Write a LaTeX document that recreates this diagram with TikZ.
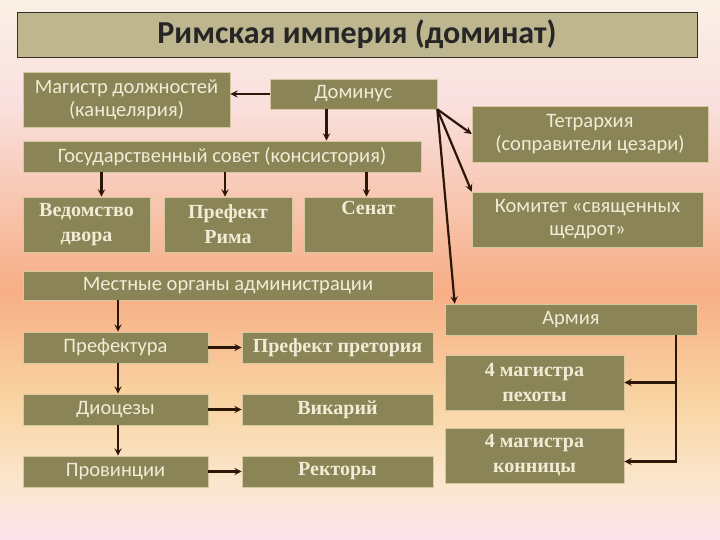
\documentclass[tikz,border=0pt]{standalone}
\usepackage{fontspec}
\setmainfont{Liberation Serif}
\newfontfamily\carlito{Carlito}
\usetikzlibrary{arrows}

\definecolor{boxfill}{HTML}{8A8456}
\definecolor{boxedge}{HTML}{D8C8A0}
\definecolor{boxtext}{HTML}{F3EBD6}
\definecolor{titlefill}{HTML}{BEB68F}
\definecolor{titleedge}{HTML}{3A3020}
\definecolor{arrowcol}{HTML}{2B1608}
\definecolor{bgA}{HTML}{FBF0E6}
\definecolor{bgB}{HTML}{F9E1E0}
\definecolor{bgC}{HTML}{F7AE86}
\definecolor{bgD}{HTML}{F9D4A2}
\definecolor{bgE}{HTML}{FBE6CC}
\definecolor{bgF}{HTML}{FCE2EC}

\begin{document}
\begin{tikzpicture}[x=1pt, y=-1pt]

% definitions
\tikzstyle{title} = [rectangle, minimum width=680pt, minimum height=45pt, draw=titleedge, fill=titlefill, text=black!85, font=\carlito\bfseries\fontsize{32}{34}\selectfont]

\tikzstyle{sansbox} = [rectangle, inner sep=0pt, align=center, draw=boxedge, line width=0.6pt, fill=boxfill, text=boxtext, font=\carlito\fontsize{20.5}{23}\selectfont]

\tikzstyle{serifbox} = [rectangle, inner sep=0pt, align=center, draw=boxedge, line width=0.6pt, fill=boxfill, text=boxtext, font=\bfseries\fontsize{20}{25}\selectfont]

\tikzstyle{arrow} = [->, >=stealth, line width=2.2pt, draw=arrowcol]

% background
\useasboundingbox (0,0) rectangle (720,540);
\shade [top color=bgA, bottom color=bgB] (0,0) rectangle (720,100);
\shade [top color=bgB, bottom color=bgC] (0,100) rectangle (720,290);
\shade [top color=bgC, bottom color=bgD] (0,290) rectangle (720,400);
\shade [top color=bgD, bottom color=bgE] (0,400) rectangle (720,480);
\shade [top color=bgE, bottom color=bgF] (0,480) rectangle (720,540);

% the graph
\node (head) [title] at (357,34.5) {Римская империя (доминат)};

\node (magistr) [sansbox, minimum width=207pt, minimum height=55pt] at (126.5,99.5) {Магистр должностей\\(канцелярия)};
\node (dominus) [sansbox, minimum width=167pt, minimum height=30pt] at (353.5,94) {Доминус};
\node (council) [sansbox, minimum width=398pt, minimum height=31pt] at (222,156.5) {Государственный совет (консистория)};

\node (court) [serifbox, minimum width=127pt, minimum height=55pt] at (86.5,224.5) {Ведомство\\двора};
\node (prefrome) [serifbox, minimum width=128pt, minimum height=55pt] at (228,224.5) {Префект\\Рима};
\node (senate) [serifbox, minimum width=129pt, minimum height=55pt] at (368.5,224.5) {Сенат\\\strut};

\node (local) [sansbox, minimum width=410pt, minimum height=29pt] at (228,285.5) {Местные органы администрации};

\node (tetr) [sansbox, minimum width=236pt, minimum height=56pt] at (590,134) {Тетрархия\\(соправители цезари)};
\node (largess) [sansbox, minimum width=231pt, minimum height=55pt] at (587.5,219.5) {Комитет «священных\\щедрот»};
\node (army) [sansbox, minimum width=252pt, minimum height=31pt] at (571,319.5) {Армия};

\node (prefecture) [sansbox, minimum width=185pt, minimum height=31pt] at (115.5,347.5) {Префектура};
\node (praetor) [serifbox, minimum width=191pt, minimum height=31pt] at (337.5,347.5) {Префект претория};
\node (diocese) [sansbox, minimum width=185pt, minimum height=31pt] at (115.5,409.5) {Диоцезы};
\node (vicar) [serifbox, minimum width=191pt, minimum height=31pt] at (337.5,409.5) {Викарий};
\node (province) [sansbox, minimum width=185pt, minimum height=31pt] at (115.5,471.5) {Провинции};
\node (rector) [serifbox, minimum width=191pt, minimum height=31pt] at (337.5,471.5) {Ректоры};

\node (foot) [serifbox, minimum width=179pt, minimum height=55pt] at (534.5,382.5) {4 магистра\\пехоты};
\node (horse) [serifbox, minimum width=179pt, minimum height=55pt] at (534.5,455.5) {4 магистра\\конницы};

\coordinate (armyfoot) at ([xshift=105pt]army.south);

\draw [arrow] (dominus.west) -- (dominus.west -| magistr.east);
\draw [arrow] ([xshift=-27pt]dominus.south) -- ([xshift=-27pt]dominus.south |- council.north);

\draw [arrow] ([xshift=15pt]court.north |- council.south) -- ([xshift=15pt]court.north);
\draw [arrow] ([xshift=-3pt]prefrome.north |- council.south) -- ([xshift=-3pt]prefrome.north);
\draw [arrow] ([xshift=-2pt]senate.north |- council.south) -- ([xshift=-2pt]senate.north);

\draw [arrow] (dominus.south east) -- (tetr.west);
\draw [arrow] (dominus.south east) -- (largess.north west);
\draw [arrow] (dominus.south east) -- ([xshift=10pt]army.north west);

\draw [arrow] ([xshift=2.5pt]prefecture.north |- local.south) -- ([xshift=2.5pt]prefecture.north);
\draw [arrow] ([xshift=2.5pt]prefecture.south) -- ([xshift=2.5pt]diocese.north);
\draw [arrow] ([xshift=2.5pt]diocese.south) -- ([xshift=2.5pt]province.north);

\draw [arrow] (prefecture.east) -- (praetor.west);
\draw [arrow] (diocese.east) -- (vicar.west);
\draw [arrow] (province.east) -- (rector.west);

\draw [arrow] (armyfoot) |- (foot.east);
\draw [arrow] (armyfoot) |- ([yshift=-6pt]horse.east);

\end{tikzpicture}
\end{document}
